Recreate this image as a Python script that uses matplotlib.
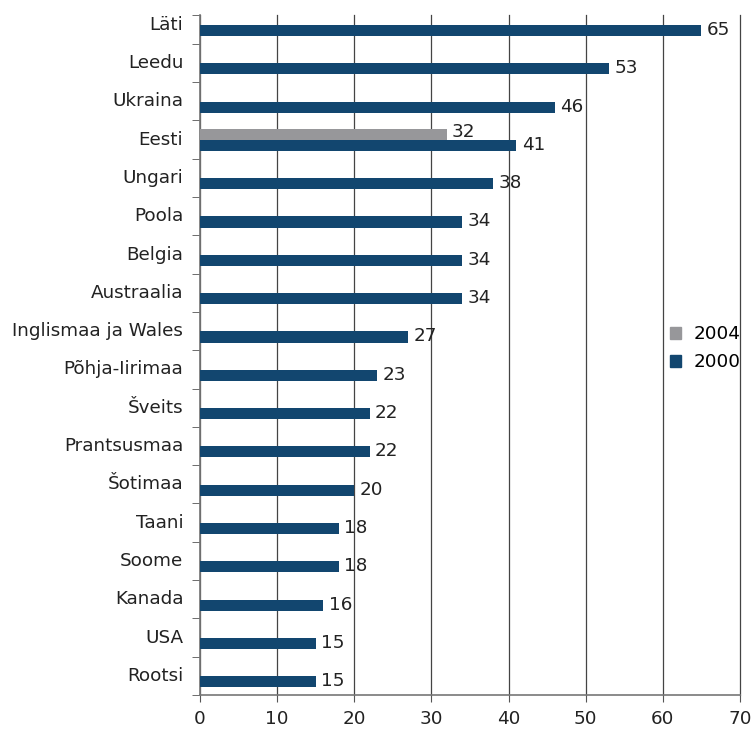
import numpy as np
import matplotlib
matplotlib.use("Agg")
import matplotlib.pyplot as plt
from matplotlib.patches import Patch

plt.rcParams['font.family'] = ['DejaVu Sans']

riigid = ["Läti", "Leedu", "Ukraina", "Eesti", "Ungari", "Poola", "Belgia",
          "Austraalia", "Inglismaa ja Wales", "Põhja-Iirimaa", "Šveits",
          "Prantsusmaa", "Šotimaa", "Taani", "Soome", "Kanada", "USA", "Rootsi"]
v2000 = [65, 53, 46, 41, 38, 34, 34, 34, 27, 23, 22, 22, 20, 18, 18, 16, 15, 15]
# 2004 ainult Eestil
v2004 = [None, None, None, 32, None, None, None, None, None, None, None,
         None, None, None, None, None, None, None]

sinine = "#12466f"
hall = "#97979a"
fs = 13.2

fig = plt.figure(figsize=(7.53, 7.34), dpi=100)
ax = fig.add_axes([0.2656, 0.0531, 0.7171, 0.9265])

y = np.arange(len(riigid))
h = 0.29
ax.barh(y + 0.155, v2000, height=h, color=sinine, zorder=3)
for i, v in enumerate(v2000):
    ax.text(v + 0.7, y[i] + 0.14, str(v), va="center", ha="left",
            fontsize=fs, color="#222222", zorder=4)
for i, v in enumerate(v2004):
    if v is None:
        continue
    ax.barh(y[i] - 0.135, v, height=h, color=hall, zorder=3)
    ax.text(v + 0.6, y[i] - 0.2, str(v), va="center", ha="left",
            fontsize=fs, color="#222222", zorder=4)

ax.set_xlim(0, 70)
ax.set_ylim(17.5, -0.25)
ax.set_xticks(np.arange(0, 71, 10))
ax.set_yticks(y - 0.05)
ax.set_yticklabels(riigid, fontsize=fs, color="#222222")
ax.tick_params(axis="y", length=0, pad=12)
ax.set_yticks(np.append(np.arange(0.5, 17.6, 1), -0.25), minor=True)
ax.tick_params(axis="y", which="minor", length=6, color="#555555")
ax.tick_params(axis="x", length=5, color="#555555", labelsize=fs,
               labelcolor="#222222", pad=6)
ax.xaxis.grid(True, color="#444444", linewidth=0.9, zorder=0)
for gl in ax.get_xgridlines():
    gl.set_clip_on(False)
ax.set_axisbelow(True)

for s in ["top", "right"]:
    ax.spines[s].set_visible(False)
for s in ["left", "bottom"]:
    ax.spines[s].set_color("#777777")
    ax.spines[s].set_linewidth(1.2)

kirjed = [Patch(color=hall, label="2004"), Patch(color=sinine, label="2000")]
ax.legend(handles=kirjed, loc="center left", bbox_to_anchor=(0.84, 0.51),
          frameon=False, fontsize=fs, handlelength=0.6, handleheight=0.6,
          handletextpad=0.7, labelspacing=0.55)

fig.savefig("out.png", dpi=100)
